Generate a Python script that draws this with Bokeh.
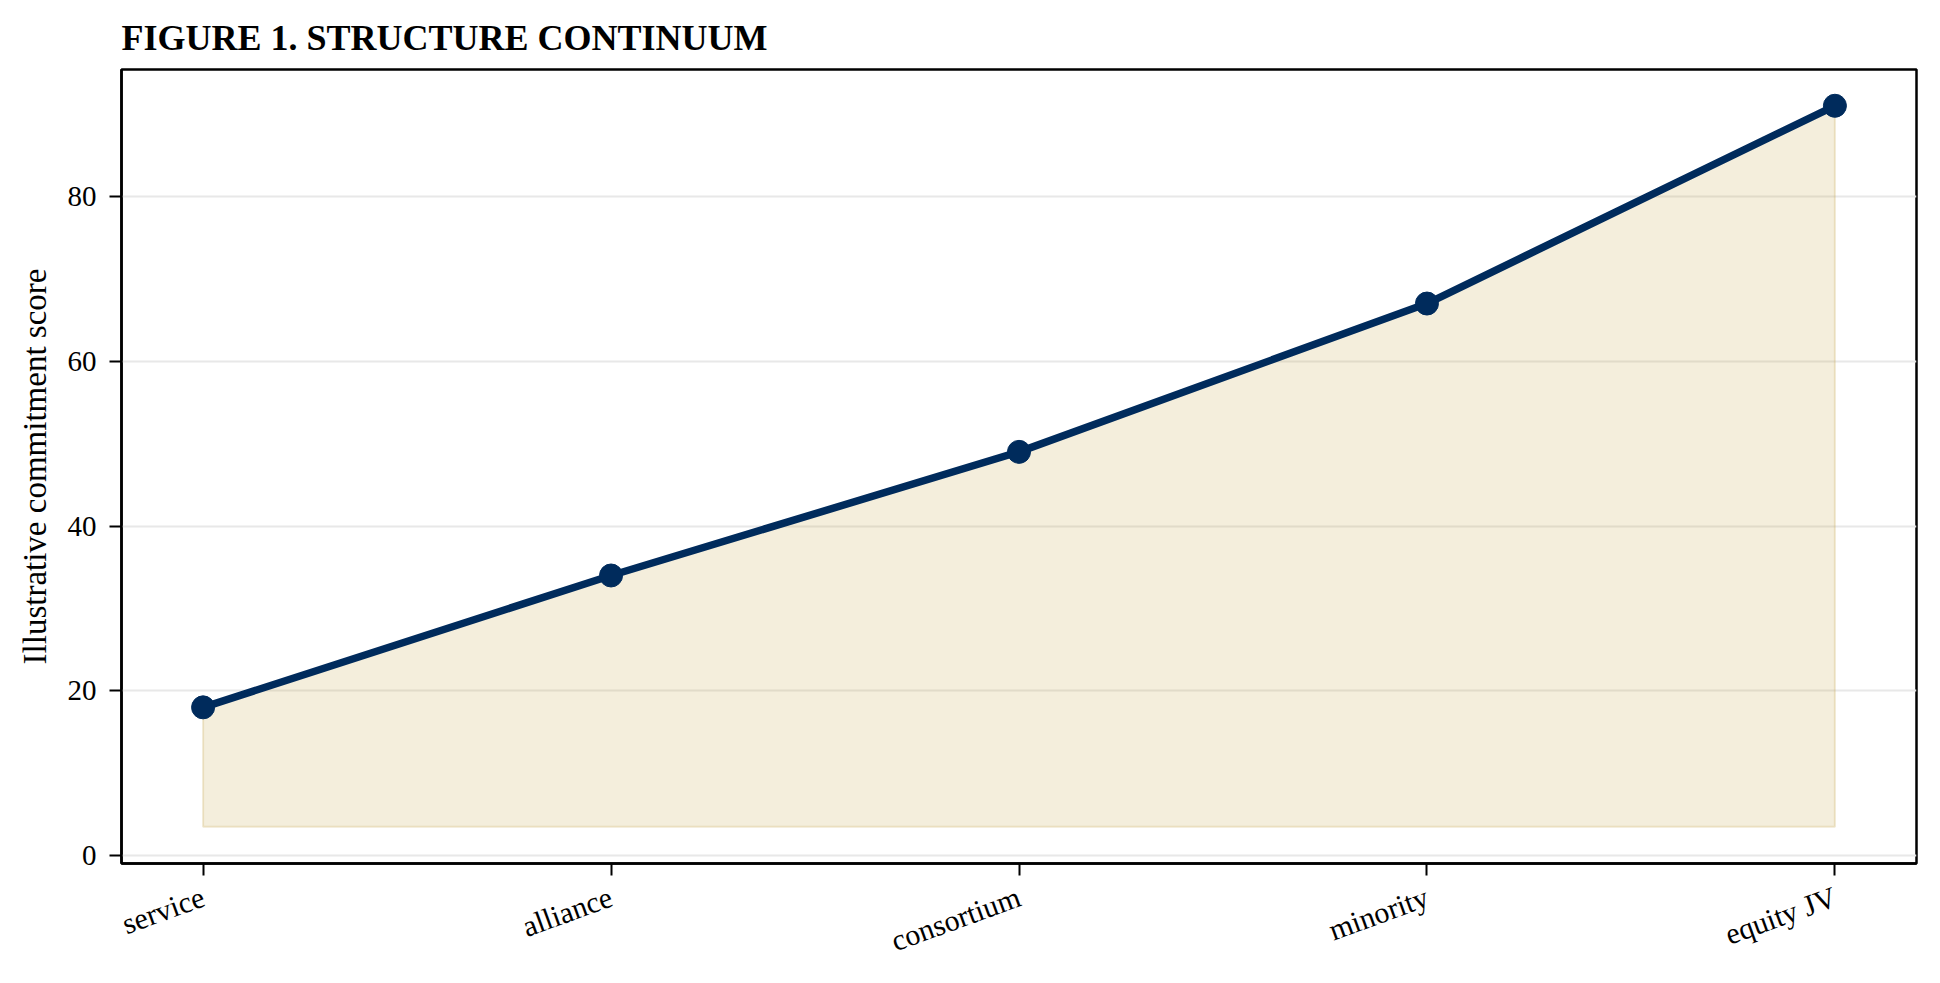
import math
from bokeh.plotting import figure
from bokeh.models import FixedTicker, Range1d
from bokeh.embed import file_html
from bokeh.resources import INLINE

categories = ["service", "alliance", "consortium", "minority", "equity JV"]
scores = [18, 34, 49, 67, 91]
fill_floor = 3.5
y_ticks = [0, 20, 40, 60, 80]

navy = "#002b5c"
gold = "#c8a951"
serif = "Liberation Serif"

xs = list(range(len(categories)))

p = figure(width=1924, height=975, output_backend="svg", toolbar_location=None,
           x_range=Range1d(-0.2, len(categories) - 1 + 0.2),
           y_range=Range1d(-0.95, 95.4),
           title="FIGURE 1. STRUCTURE CONTINUUM",
           min_border_left=121, min_border_right=8, min_border_top=69, min_border_bottom=111)

# shaded area under the line
px = [xs[0]] + xs + [xs[-1]]
py = [fill_floor] + scores + [fill_floor]
p.patch(px, py, fill_color=gold, fill_alpha=0.2, line_color=gold, line_alpha=0.25, line_width=2)

p.line(xs, scores, line_color=navy, line_width=7.5)
p.scatter(xs, scores, size=23, fill_color=navy, line_color=navy)

p.title.text_font = serif
p.title.text_font_size = "36px"
p.title.text_font_style = "bold"
p.title.text_color = "black"
p.title.align = "left"
p.title.standoff = 23

p.outline_line_color = "black"
p.outline_line_width = 2.5
p.background_fill_color = "white"
p.border_fill_color = "white"

p.xgrid.grid_line_color = None
p.ygrid.grid_line_color = "#e8e8e8"
p.ygrid.grid_line_width = 2

p.yaxis.ticker = FixedTicker(ticks=y_ticks)
p.xaxis.ticker = FixedTicker(ticks=xs)
p.xaxis.major_label_overrides = {i: c for i, c in zip(xs, categories)}
p.xaxis.major_label_orientation = math.radians(20)

p.yaxis.axis_label = "Illustrative commitment score"
p.yaxis.axis_label_text_font = serif
p.yaxis.axis_label_text_font_size = "33px"
p.yaxis.axis_label_text_font_style = "normal"
p.yaxis.axis_label_text_color = "black"
p.yaxis.axis_label_standoff = 12

for ax in (p.xaxis, p.yaxis):
    ax.major_label_text_font = serif
    ax.major_label_text_color = "black"
    ax.axis_line_color = "black"
    ax.axis_line_width = 2.5
    ax.major_tick_line_color = "black"
    ax.major_tick_line_width = 2
    ax.major_tick_out = 12
    ax.major_tick_in = 0
    ax.minor_tick_line_color = None

p.xaxis.major_label_text_font_size = "30px"
p.xaxis.major_label_standoff = 20
p.yaxis.major_label_text_font_size = "29px"
p.yaxis.major_label_standoff = 13

open("out.html", "w").write(file_html(p, INLINE))
